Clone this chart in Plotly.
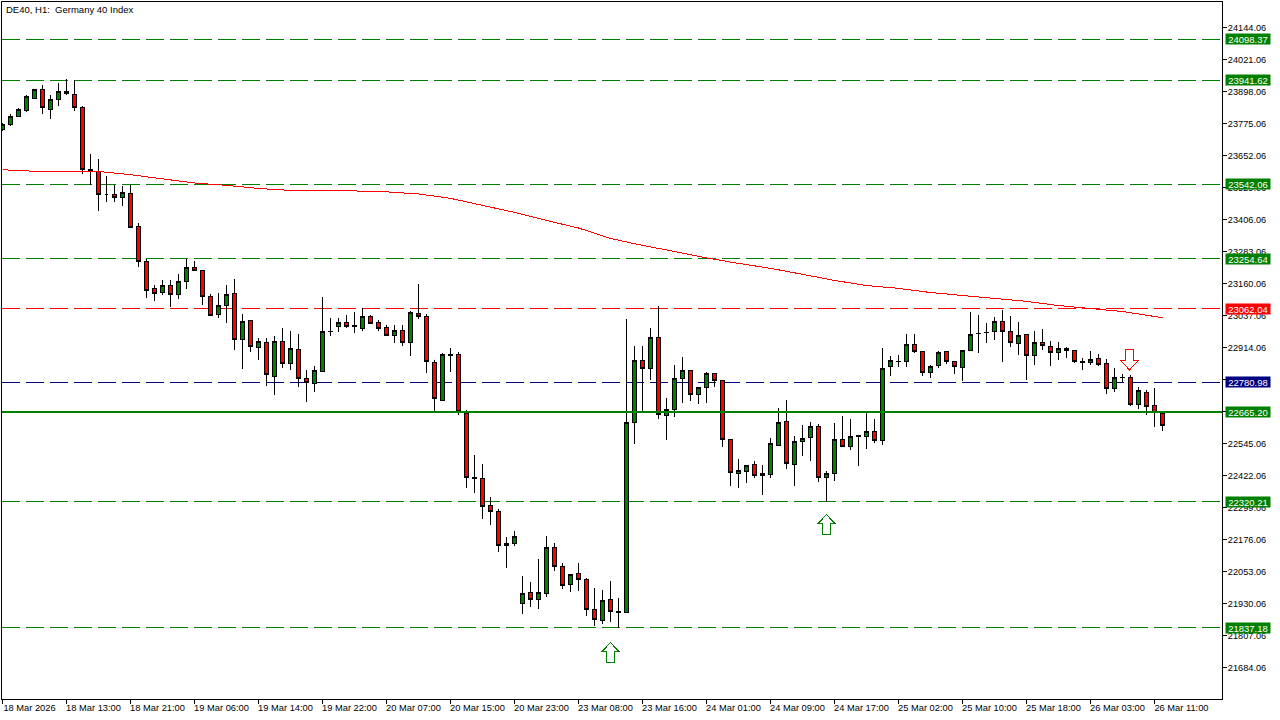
import plotly.graph_objects as go

opens = [23750,23770,23801,23826,23872,23905,23830,23866,23897,23885,
23835,23597,23589,23501,23501,23489,23505,23378,23243,23140,
23124,23151,23117,23167,23220,23209,23109,23040,23074,23120,
22946,23017,22915,22932,22804,22936,22851,22905,22794,22775,
22823,22975,22996,23009,22997,22988,23032,23009,22990,22961,
22978,22934,23044,23032,22855,22711,22885,22886,22661,22411,
22409,22305,22283,22152,22160,21929,21971,21946,21967,22144,
22071,22002,22044,22021,21906,21864,21944,21896,21894,22625,
22863,22832,22951,22652,22675,22794,22824,22732,22759,22813,
22786,22559,22429,22436,22463,22421,22425,22536,22628,22463,
22552,22567,22609,22413,22429,22559,22532,22572,22573,22590,
22555,22842,22859,22859,22924,22897,22817,22844,22897,22859,
22836,22901,22966,22971,22974,23013,22974,22928,22963,22882,
22932,22917,22894,22909,22901,22857,22855,22871,22851,22755,
22797,22798,22696,22740,22690,22661]
highs = [23775,23812,23835,23883,23908,23921,23883,23931,23947,23943,
23843,23659,23639,23571,23537,23533,23538,23393,23255,23155,
23174,23174,23197,23253,23245,23211,23120,23124,23155,23178,
23041,23019,22951,22951,22959,22987,22979,22964,22826,22841,
23106,23029,23026,23037,23049,23067,23037,23018,23002,22999,
22999,23055,23159,23044,22867,22894,22913,22897,22672,22502,
22467,22340,22294,22184,22209,22037,22013,22102,22188,22163,
22086,22042,22084,22029,21990,21983,22017,21952,23022,22918,
22918,22990,23075,22721,22848,22878,22828,22761,22818,22815,
22788,22563,22486,22461,22479,22463,22567,22682,22713,22572,
22617,22628,22621,22440,22625,22652,22640,22578,22663,22640,
22913,22882,22886,22967,22967,22899,22848,22901,22899,22861,
22903,23051,23040,23009,23032,23059,23036,23013,22967,22978,
22986,22940,22936,22917,22903,22874,22901,22890,22871,22836,
22813,22809,22763,22751,22759,22663]
lows = [23744,23765,23799,23818,23867,23811,23792,23842,23883,23822,
23580,23539,23438,23472,23472,23457,23372,23223,23104,23092,
23115,23069,23100,23138,23207,23077,23034,23026,23006,22904,
22831,22895,22864,22764,22733,22833,22826,22760,22706,22741,
22818,22957,22973,22988,22969,22976,23004,22977,22957,22931,
22919,22881,23023,22815,22664,22710,22818,22654,22373,22354,
22254,22231,22127,22066,22150,21889,21916,21908,21954,22054,
21985,21973,21977,21881,21843,21850,21858,21837,21893,22542,
22665,22787,22638,22558,22646,22700,22708,22696,22700,22761,
22531,22381,22373,22392,22412,22346,22412,22535,22446,22381,
22496,22477,22396,22321,22400,22531,22519,22458,22523,22546,
22539,22804,22838,22838,22894,22805,22796,22834,22851,22811,
22785,22900,22892,22931,22942,22858,22917,22886,22787,22846,
22905,22842,22865,22873,22854,22827,22846,22842,22735,22742,
22781,22688,22677,22654,22608,22592]
closes = [23769,23801,23828,23878,23905,23835,23866,23897,23889,23835,
23597,23591,23501,23501,23492,23509,23374,23243,23132,23120,
23151,23117,23167,23220,23209,23109,23038,23074,23117,22946,
23013,22917,22936,22808,22936,22851,22909,22794,22778,22824,
22974,22977,23009,22996,22995,23032,23007,22988,22961,22978,
22934,23047,23031,22858,22717,22886,22883,22669,22413,22413,
22304,22283,22152,22160,22186,21967,21944,21971,22144,22071,
21998,22040,22021,21906,21867,21940,21898,21898,22625,22863,
22832,22951,22655,22675,22794,22824,22732,22759,22813,22786,
22559,22432,22440,22459,22421,22429,22544,22625,22467,22552,
22563,22609,22413,22429,22559,22532,22571,22574,22590,22555,
22832,22863,22861,22924,22897,22817,22840,22894,22859,22840,
22901,22963,22968,22973,23013,22974,22932,22959,22882,22932,
22921,22894,22909,22901,22858,22859,22867,22850,22755,22798,
22799,22696,22748,22688,22663,22612]

ma_bars = [0,4,8,12,16,20,24,28,32,36,40,44,48,52,56,60,64,68,72,76,
80,84,88,92,96,100,104,108,112,116,120,124,128,132,136,140,144,145]
ma_values = [23597,23591,23590.5,23590.5,23578,23562,23546,23537,23525,23517.5,
23517.5,23515.5,23512,23504,23487,23460,23433,23402,23373,23333,
23306,23283,23258,23237,23218,23195,23171.5,23152,23141,23125,
23114,23104,23091,23075,23064,23052,23033,23028]

level_prices = [24098.37, 23941.62, 23542.06, 23254.64, 23062.04, 22780.98, 22320.21, 21837.18]
level_colors = ["#008000", "#008000", "#008000", "#008000", "#ff0000", "#000080", "#008000", "#008000"]
solid_price = 22665.20
solid_color = "#008000"

y_ticks = [24144.06, 24021.06, 23898.06, 23775.06, 23652.06, 23529.06, 23406.06,
           23283.06, 23160.06, 23037.06, 22914.06, 22791.06, 22668.06, 22545.06,
           22422.06, 22299.06, 22176.06, 22053.06, 21930.06, 21807.06, 21684.06]
x_tick_bars = [0,8,16,24,32,40,48,56,64,72,80,88,96,104,112,120,128,136,144]
x_tick_labels = ["18 Mar 2026","18 Mar 13:00","18 Mar 21:00","19 Mar 06:00","19 Mar 14:00",
                 "19 Mar 22:00","20 Mar 07:00","20 Mar 15:00","20 Mar 23:00","23 Mar 08:00",
                 "23 Mar 16:00","24 Mar 01:00","24 Mar 09:00","24 Mar 17:00","25 Mar 02:00",
                 "25 Mar 10:00","25 Mar 18:00","26 Mar 03:00","26 Mar 11:00"]

up_arrow_bars = [76, 103]
up_arrow_prices = [21741, 22233]
down_arrow_bars = [141]
down_arrow_prices = [22866]

FONT = "Liberation Sans"
bars = list(range(len(opens)))

fig = go.Figure()
fig.add_trace(go.Candlestick(
    x=bars, open=opens, high=highs, low=lows, close=closes,
    increasing=dict(fillcolor="#008000", line=dict(color="#000000", width=1)),
    decreasing=dict(fillcolor="#ff0000", line=dict(color="#000000", width=1)),
    whiskerwidth=0, showlegend=False, hoverinfo="skip"))
fig.add_trace(go.Scatter(x=ma_bars, y=ma_values, mode="lines",
                         line=dict(color="#ff0000", width=1), showlegend=False, hoverinfo="skip"))

shapes = []
annotations = []
for p, c in zip(level_prices, level_colors):
    shapes.append(dict(type="line", xref="paper", x0=0, x1=1, yref="y", y0=p, y1=p, layer="below",
                       line=dict(color=c, width=1, dash="18px,6px")))
shapes.append(dict(type="line", xref="paper", x0=0, x1=1, yref="y", y0=solid_price, y1=solid_price, layer="above",
                   line=dict(color=solid_color, width=2)))

UP_PATH = "M 0 10 L 8.5 1 L 4 1 L 4 -10 L -4 -10 L -4 1 L -8.5 1 Z"
DOWN_PATH = "M -1 -10 L -9.5 -1 L -5 -1 L -5 10 L 3 10 L 3 -1 L 7.5 -1 Z"
for b, p in zip(up_arrow_bars, up_arrow_prices):
    shapes.append(dict(type="path", xref="x", yref="y", xsizemode="pixel", ysizemode="pixel",
                       xanchor=b, yanchor=p, path=UP_PATH, fillcolor="#ffffff", layer="above",
                       line=dict(color="#008000", width=1)))
for b, p in zip(down_arrow_bars, down_arrow_prices):
    shapes.append(dict(type="path", xref="x", yref="y", xsizemode="pixel", ysizemode="pixel",
                       xanchor=b, yanchor=p, path=DOWN_PATH, fillcolor="#ffffff", layer="above",
                       line=dict(color="#ff0000", width=1)))

for p, c in list(zip(level_prices, level_colors)) + [(solid_price, solid_color)]:
    annotations.append(dict(xref="paper", yref="y", x=1, y=p, xanchor="left", yanchor="middle", xshift=3,
                            text=f"{p:.2f}", showarrow=False, bgcolor=c, width=44, height=10, borderpad=0,
                            font=dict(family=FONT, size=9.5, color="#ffffff")))
annotations.append(dict(xref="paper", yref="paper", x=0, y=1, xanchor="left", yanchor="top", xshift=2, yshift=0,
                        text="DE40, H1:&nbsp;&nbsp;Germany 40 Index", showarrow=False,
                        font=dict(family=FONT, size=9.5, color="#000000")))

fig.update_layout(
    width=1280, height=720, autosize=False,
    margin=dict(l=2, r=58, t=2, b=21, pad=0),
    paper_bgcolor="#ffffff", plot_bgcolor="#ffffff",
    boxgap=0.38, showlegend=False, shapes=shapes, annotations=annotations,
    xaxis=dict(range=[-0.0625, 152.44], rangeslider=dict(visible=False), showgrid=False, zeroline=False,
               tickmode="array", tickvals=x_tick_bars, ticktext=x_tick_labels,
               ticks="outside", ticklen=4, tickwidth=1, tickcolor="#000000", tickangle=0,
               ticklabelshift=27, ticklabelstandoff=-4,
               showline=True, linecolor="#000000", linewidth=1, mirror=True,
               tickfont=dict(family=FONT, size=9.3, color="#000000")),
    yaxis=dict(range=[21562.6, 24241.7], side="right", showgrid=False, zeroline=False,
               tickmode="array", tickvals=y_ticks, ticktext=[f"{v:.2f}" for v in y_ticks],
               ticks="outside", ticklen=4, tickwidth=1, tickcolor="#000000", ticklabelstandoff=-1,
               showline=True, linecolor="#000000", linewidth=1, mirror=True,
               tickfont=dict(family=FONT, size=9.2, color="#000000")),
)
POST = ("document.body.style.margin='0';document.documentElement.style.overflow='hidden';"
        "var s=document.createElement('style');"
        "s.textContent='.main-svg path{shape-rendering:crispEdges !important}';"
        "document.head.appendChild(s);")
fig.write_html("out.html", config={"displayModeBar": False}, post_script=POST)
